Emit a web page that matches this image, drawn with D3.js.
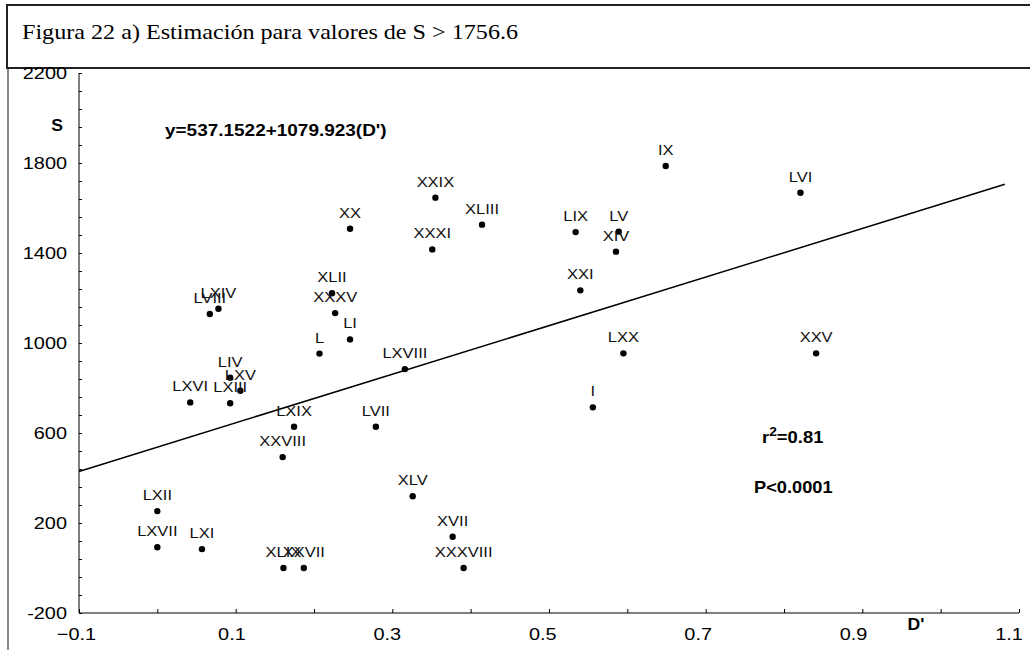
<!DOCTYPE html>
<html>
<head>
<meta charset="utf-8">
<script src="https://cdn.jsdelivr.net/npm/d3@7"></script>
<style>
  html, body { margin: 0; padding: 0; background: #fff; }
  svg { display: block; }
</style>
</head>
<body>
<svg id="chart" width="1030" height="650"></svg>
<script>
// ---- data ----
const labels = ["IX","LVI","XXIX","XLIII","XX","LIX","LV","XXXI","XIV","XXI","XLII","LXIV","XXXV","LVIII","LI","L","LXX","XXV","LXVIII","LIV","LXV","LXVI","LXIII","I","LXIX","LVII","XXVIII","XLV","LXII","XVII","LXVII","LXI","XLIX","XXVII","XXXVIII"];
const dValues = [0.649,0.821,0.355,0.4145,0.246,0.534,0.589,0.351,0.5855,0.540,0.223,0.078,0.227,0.067,0.246,0.207,0.595,0.841,0.316,0.093,0.106,0.042,0.093,0.556,0.1745,0.279,0.160,0.326,0.0,0.377,0.0,0.057,0.161,0.187,0.391];
const sValues = [1787,1668,1646,1526,1508,1493,1495,1416,1406,1234,1221,1152,1133,1129,1016,953,954,954,884,846,788,736,732,714,628,628,493,319,253,139,92,84,0,0,0];
const xTickValues = [-0.1,0.1,0.3,0.5,0.7,0.9,1.1];
const yTickValues = [2200,1800,1400,1000,600,200,-200];
const intercept = 537.1522, slope = 1079.923;
const fitRange = [-0.1, 1.082];
const titleText = "Figura 22 a) Estimación para valores de S > 1756.6";
const equationText = "y=537.1522+1079.923(D')";

// ---- layout ----
const svg = d3.select("#chart");
const x = d3.scaleLinear().domain([-0.1, 1.1]).range([79, 1019]);
const y = d3.scaleLinear().domain([-200, 2200]).range([613, 73]);
// tick labels in the reference sit on a slightly narrower span than the ticks
const xLab = d3.scaleLinear().domain([-0.1, 1.1]).range([76.5, 1009]);
const sans = "'Liberation Sans', Arial, sans-serif";

// text helper with horizontal stretch (reference glyphs are wider than Arial)
function stretched(parent, tx, ty, sx, opts) {
  const t = parent.append("text")
    .attr("transform", `translate(${tx},${ty}) scale(${sx},1)`)
    .attr("x", 0).attr("y", 0)
    .attr("font-family", opts.family || sans)
    .attr("font-size", opts.size)
    .attr("font-weight", opts.weight || "normal")
    .attr("text-anchor", opts.anchor || "start")
    .attr("fill", opts.fill || "#000");
  if (opts.text !== undefined) t.text(opts.text);
  return t;
}

// frame
svg.append("rect").attr("x", 7).attr("y", 5).attr("width", 1040).attr("height", 63)
  .attr("fill", "none").attr("stroke", "#222").attr("stroke-width", 2);
svg.append("line").attr("x1", 8).attr("x2", 8).attr("y1", 69).attr("y2", 650)
  .attr("stroke", "#888").attr("stroke-width", 2);
stretched(svg, 22, 39, 1.15, { family: "'Liberation Serif', 'Times New Roman', serif", size: 21, text: titleText });

// axes
const xAxis = d3.axisBottom(x).tickValues(d3.range(-0.1, 1.1001, 0.1)).tickSize(-4).tickFormat("");
const yAxis = d3.axisLeft(y).tickValues(d3.range(-200, 2200.1, 80)).tickSize(-3).tickFormat("");
const gx = svg.append("g").attr("transform", `translate(0,${y(-200)})`).call(xAxis);
const gy = svg.append("g").attr("transform", `translate(${x(-0.1)},0)`).call(yAxis);
[gx, gy].forEach(g => {
  g.select(".domain").attr("stroke", "#000").attr("stroke-width", 1);
  g.selectAll(".tick line").attr("stroke", "#000");
});
gx.select(".domain").attr("d", `M${x(-0.1)},0H${x(1.1)}`);
gy.select(".domain").attr("d", `M0,${y(-200)}V${y(2200)}`);

const gxl = svg.append("g");
xTickValues.forEach(d => stretched(gxl, xLab(d), 640, 1.17, { size: 17, anchor: "middle", text: d3.format(".1f")(d) }));
const gyl = svg.append("g");
yTickValues.forEach(d => stretched(gyl, 67, y(d) + 6, 1.17, { size: 17, anchor: "end", text: String(d) }));

stretched(svg, 57, 131, 1.1, { size: 16, weight: "bold", anchor: "middle", text: "S" });
stretched(svg, 916, 630, 1.1, { size: 16, weight: "bold", anchor: "middle", text: "D'" });

// fit line
svg.append("line")
  .attr("x1", x(fitRange[0])).attr("y1", y(intercept + slope * fitRange[0]))
  .attr("x2", x(fitRange[1])).attr("y2", y(intercept + slope * fitRange[1]))
  .attr("stroke", "#000").attr("stroke-width", 1.5);

// points
const pts = labels.map((l, i) => ({ l, d: dValues[i], s: sValues[i] }));
svg.append("g").selectAll("circle").data(pts).join("circle")
  .attr("cx", p => x(p.d)).attr("cy", p => y(p.s)).attr("r", 3.2).attr("fill", "#000");
const gl = svg.append("g");
pts.forEach(p => stretched(gl, x(p.d), y(p.s) - 11, 1.1, { size: 15, anchor: "middle", fill: "#111", text: p.l }));

// annotations
stretched(svg, 165, 136, 1.15, { size: 16.5, weight: "bold", text: equationText });
const r2 = stretched(svg, 762, 443, 1.15, { size: 16, weight: "bold" });
r2.append("tspan").text("r");
r2.append("tspan").attr("dy", -7).attr("font-size", 12).text("2");
r2.append("tspan").attr("dy", 7).text("=0.81");
stretched(svg, 754, 493, 1.14, { size: 16, weight: "bold", text: "P<0.0001" });
</script>
</body>
</html>
